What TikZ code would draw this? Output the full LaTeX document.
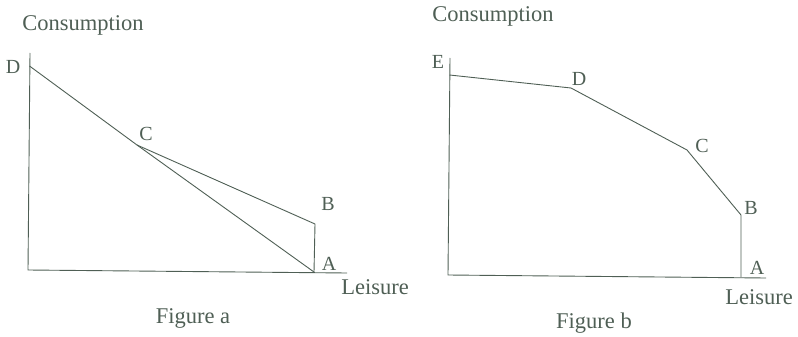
\documentclass[tikz,border=0pt]{standalone}
\usepackage{fontspec}
\setmainfont{Liberation Serif}
\begin{document}
\begin{tikzpicture}[x=1pt,y=-1pt,
  ln/.style={draw=ink, line width=0.9pt, line join=miter},
  lbl/.style={text=ink, inner sep=0pt, font=\fontsize{20}{22}\selectfont},
  ttl/.style={text=ink, inner sep=0pt, font=\fontsize{22.5}{25}\selectfont}]
\definecolor{ink}{HTML}{4F5F55}
\useasboundingbox (0,0) rectangle (798,337);
% Figure a
\coordinate (aO) at (28,270);
\coordinate (aY) at (30,53);
\coordinate (aX) at (347,273);
\coordinate (aD) at (29.5,66);
\coordinate (aC) at (137,145);
\coordinate (aB) at (315,224);
\coordinate (aA) at (314,272);
\draw[ln] (aY) -- (aO) -- (aX);
\draw[ln] (aD) -- (aC) -- (aA);
\draw[ln] (aC) -- (aB) -- (aA);
\node[ttl] (aCons) at (83,25) {Consumption};
\node[ttl] (aLeis) at (375,287) {Leisure};
\node[ttl] (aFig) at (193,318) {Figure a};
\node[lbl] (aDl) at (13,67) {D};
\node[lbl] (aCl) at (146,134) {C};
\node[lbl] (aBl) at (328,204) {B};
\node[lbl] (aAl) at (329,264) {A};
% Figure b
\coordinate (bO) at (448,275);
\coordinate (bY) at (450,58);
\coordinate (bX) at (766,278);
\coordinate (bE) at (449.5,75);
\coordinate (bD) at (571,88);
\coordinate (bC) at (687,150);
\coordinate (bB) at (741,215);
\coordinate (bA) at (741,277);
\draw[ln] (bY) -- (bO) -- (bX);
\draw[ln] (bE) -- (bD) -- (bC) -- (bB) -- (bA);
\node[ttl] (bCons) at (493,16) {Consumption};
\node[ttl] (bLeis) at (759,297) {Leisure};
\node[ttl] (bFig) at (594,323) {Figure b};
\node[lbl] (bEl) at (438,62) {E};
\node[lbl] (bDl) at (579,79) {D};
\node[lbl] (bCl) at (702,146) {C};
\node[lbl] (bBl) at (751,208) {B};
\node[lbl] (bAl) at (757,268) {A};
\end{tikzpicture}
\end{document}
